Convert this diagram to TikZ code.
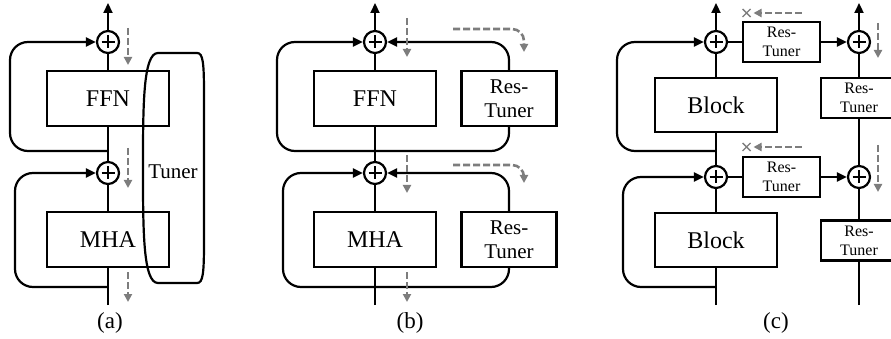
\documentclass[tikz,border=0pt]{standalone}
\usepackage{fontspec}
\setmainfont{Liberation Serif}
\usetikzlibrary{arrows.meta,positioning,calc}
\definecolor{hintgray}{RGB}{125,125,125}

\begin{document}
\begin{tikzpicture}[x=1pt, y=-1pt, line width=2.2pt,
  every node/.style={font=\fontsize{24}{26}\selectfont},
  blk/.style={draw, minimum width=122pt, minimum height=55pt, inner sep=0pt},
  rt/.style={draw, align=center, minimum width=95pt, minimum height=55pt, inner sep=0pt, font=\fontsize{21}{24}\selectfont},
  rts/.style={draw, align=center, minimum width=77pt, minimum height=40pt, inner sep=0pt, font=\fontsize{16}{19}\selectfont},
  sum/.style={draw, circle, minimum size=22pt, inner sep=0pt,
    path picture={\draw[line width=2pt] ($(path picture bounding box.center)+(-6.5,0)$) -- ($(path picture bounding box.center)+(6.5,0)$)
      ($(path picture bounding box.center)+(0,-6.5)$) -- ($(path picture bounding box.center)+(0,6.5)$);}},
  arr/.style={-{Triangle[length=10pt,width=9pt]}},
  resid/.style={rounded corners=18pt},
  hint/.style={hintgray, line width=2.6pt, dash pattern=on 7pt off 3pt, -{Triangle[length=8pt,width=8pt]}},
  nohint/.style={hintgray, line width=1.4pt},
  subcap/.style={font=\fontsize{23}{24}\selectfont}]
\useasboundingbox (0,0) rectangle (891,339);

% (a) one tuner beside the whole layer
\node[sum] (sa1) at (108,42) {};
\node[sum] (sa2) at (108,173) {};
\node[blk] (ffna) at (108,98.5) {FFN};
\node[blk] (mhaa) at (108,239.5) {MHA};
\coordinate (ina) at (108,305);
\coordinate (outa) at (108,3);
\coordinate (ja1) at (108,151);
\coordinate (ja2) at (108,287);
\draw (ina) -- (mhaa); \draw (mhaa) -- (sa2); \draw (sa2) -- (ffna); \draw (ffna) -- (sa1);
\draw[arr] (sa1) -- (outa);
\draw[arr, resid] (ja1) -- ++(-98,0) |- (sa1);
\draw[arr, resid] (ja2) -- ++(-93,0) |- (sa2);
\draw (158,53) -- (197,53) .. controls (203,53) and (204,62) .. (204,95) -- (204,241)
  .. controls (204,274) and (203,283) .. (197,283) -- (158,283)
  .. controls (143,283) and (143,230) .. (143,168) .. controls (143,106) and (143,53) .. (158,53) -- cycle;
\node[font=\fontsize{21}{24}\selectfont] (tunera) at (173,172) {Tuner};
\draw[hint] ($(sa1)+(20,-14)$) -- ++(0,37);
\draw[hint] ($(sa2)+(20,-25)$) -- ++(0,40);
\draw[hint] ($(ina)+(20,-33)$) -- ++(0,30);
\node[subcap] (capa) at (110,323) {(a)};

% (b) a res-tuner beside each sub-layer
\node[sum] (sb1) at (375,42) {};
\node[sum] (sb2) at (375,173) {};
\node[blk] (ffnb) at (375,98.5) {FFN};
\node[blk] (mhab) at (375,239.5) {MHA};
\node[rt] (rtb1) at (509,98.5) {Res-\\Tuner};
\node[rt] (rtb2) at (509,239.5) {Res-\\Tuner};
\coordinate (inb) at (375,305);
\coordinate (outb) at (375,3);
\coordinate (jb1) at (375,151);
\coordinate (jb2) at (375,287);
\draw (inb) -- (mhab); \draw (mhab) -- (sb2); \draw (sb2) -- (ffnb); \draw (ffnb) -- (sb1);
\draw[arr] (sb1) -- (outb);
\draw[arr, resid] (jb1) -- ++(-98,0) |- (sb1);
\draw[resid] (jb1) -| (rtb1);
\draw[arr, resid] (rtb1) |- (sb1);
\draw[arr, resid] (jb2) -- ++(-92,0) |- (sb2);
\draw[resid] (jb2) -| (rtb2);
\draw[arr, resid] (rtb2) |- (sb2);
\draw[hint] ($(sb1)+(32,-24)$) -- ++(0,39);
\draw[hint] ($(sb2)+(32,-18)$) -- ++(0,38);
\draw[hint] ($(inb)+(32,-33)$) -- ++(0,30);
\draw[hint, rounded corners=12pt] ($(sb1)+(78,-13)$) -| ++(71,23);
\draw[hint, rounded corners=12pt] ($(sb2)+(78,-8)$) -| ++(71,18);
\node[subcap] (capb) at (410,323) {(b)};

% (c) res-tuners as a separate side branch
\node[sum] (sc1) at (716,42) {};
\node[sum] (sc2) at (716,177) {};
\node[sum] (sc3) at (859,42) {};
\node[sum] (sc4) at (859,177) {};
\node[blk, minimum height=54pt] (blkc1) at (716,105) {Block};
\node[blk, minimum height=54pt] (blkc2) at (716,240) {Block};
\node[rts] (rtc1) at (781.5,42) {Res-\\Tuner};
\node[rts] (rtc2) at (781.5,177) {Res-\\Tuner};
\node[rts, minimum width=76pt] (rtc3) at (859,98) {Res-\\Tuner};
\node[rts, minimum width=76pt] (rtc4) at (859,240.5) {Res-\\Tuner};
\coordinate (inc) at (716,305);
\coordinate (outc) at (716,3);
\coordinate (ind) at (859,305);
\coordinate (outd) at (859,3);
\coordinate (jc1) at (716,151);
\coordinate (jc2) at (716,287);
\draw (inc) -- (blkc2); \draw (blkc2) -- (sc2); \draw (sc2) -- (blkc1); \draw (blkc1) -- (sc1);
\draw[arr] (sc1) -- (outc);
\draw[arr, resid] (jc1) -- ++(-99,0) |- (sc1);
\draw[arr, resid] (jc2) -- ++(-93,0) |- (sc2);
\draw (sc1) -- (rtc1); \draw[arr] (rtc1) -- (sc3);
\draw (sc2) -- (rtc2); \draw[arr] (rtc2) -- (sc4);
\draw (ind) -- (rtc4); \draw (rtc4) -- (sc4); \draw (sc4) -- (rtc3); \draw (rtc3) -- (sc3);
\draw[arr] (sc3) -- (outd);
\draw[hint] ($(rtc1)+(20,-29)$) -- ++(-48,0);
\draw[hint] ($(rtc2)+(20,-30)$) -- ++(-48,0);
\coordinate (xc1) at ($(rtc1)+(-35,-29)$);
\coordinate (xc2) at ($(rtc2)+(-35,-30)$);
\draw[nohint] (xc1) +(-4,-4) -- +(4,4) +(-4,4) -- +(4,-4);
\draw[nohint] (xc2) +(-4,-4) -- +(4,4) +(-4,4) -- +(4,-4);
\draw[hint] ($(sc3)+(19,-19)$) -- ++(0,35);
\draw[hint] ($(sc4)+(19,-32)$) -- ++(0,47);
\node[subcap] (capc) at (776,323) {(c)};
\end{tikzpicture}
\end{document}
